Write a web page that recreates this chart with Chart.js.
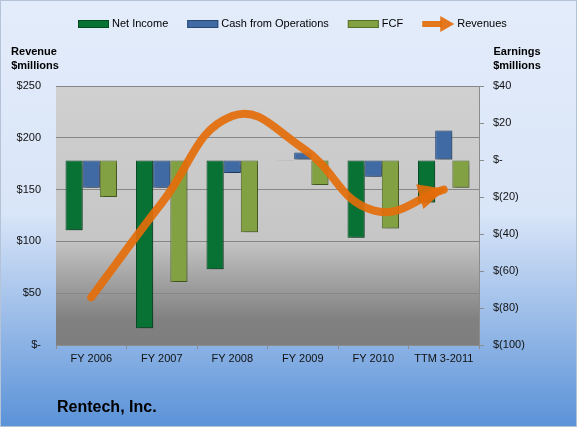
<!DOCTYPE html>
<html>
<head>
<meta charset="utf-8">
<script src="https://cdn.jsdelivr.net/npm/chart.js@4/dist/chart.umd.min.js"></script>
<style>
  html, body { margin: 0; padding: 0; background: #fff; }
  canvas { display: block; }
</style>
</head>
<body>
<canvas id="chart" width="577" height="427"></canvas>
<script>
// values ($ millions)
const categories = ['FY 2006', 'FY 2007', 'FY 2008', 'FY 2009', 'FY 2010', 'TTM 3-2011'];
const netIncome = [-38, -91, -59, -0.4, -42, -23];
const cashFromOps = [-15, -15, -7, 4, -9, 16];
const fcf = [-20, -66, -39, -13.5, -37, -15];
const revenues = [46, 137, 221, 190, 130, 150];

const revenueAxis = { min: 0, max: 250, step: 50 };
const earningsAxis = { min: -100, max: 40, step: 20 };

const FONT = '"Liberation Sans", Arial, sans-serif';
const ORANGE = 'rgba(228, 108, 10, 0.92)';

const fmtRevenue = (v) => (v === 0 ? '$-' : '$' + v);
const fmtEarnings = (v) => {
    if (v === 0) return '$-';
    if (v < 0) return '$(' + Math.abs(v) + ')';
    return '$' + v;
};

// page + plot backgrounds
const backgrounds = {
    id: 'backgrounds',
    beforeDraw(chart) {
        const { ctx, width, height, chartArea: a } = chart;
        ctx.save();
        let g = ctx.createLinearGradient(0, 0, 0, height);
        g.addColorStop(0, '#e3ecfa');
        g.addColorStop(0.5, '#d9e5f8');
        g.addColorStop(1, '#5a92d8');
        ctx.fillStyle = g;
        ctx.fillRect(0, 0, width, height);
        ctx.strokeStyle = '#b4c3d8';
        ctx.lineWidth = 1;
        ctx.strokeRect(0.5, 0.5, width - 1, height - 1);

        g = ctx.createLinearGradient(0, a.top, 0, a.bottom);
        g.addColorStop(0, '#d0d0d0');
        g.addColorStop(0.59, '#c6c6c6');
        g.addColorStop(0.9, '#818181');
        g.addColorStop(1, '#7e7e7e');
        ctx.fillStyle = g;
        ctx.fillRect(a.left, a.top, a.right - a.left, a.bottom - a.top);
        ctx.restore();
    }
};

// soft shadow under the bars
const barShadow = {
    id: 'barShadow',
    beforeDatasetDraw(chart, args) {
        if (args.meta.type !== 'bar') return;
        const ctx = chart.ctx;
        ctx.save();
        ctx.shadowColor = 'rgba(0,0,0,0.35)';
        ctx.shadowBlur = 3;
        ctx.shadowOffsetX = 2;
        ctx.shadowOffsetY = 2;
    },
    afterDatasetDraw(chart, args) {
        if (args.meta.type !== 'bar') return;
        chart.ctx.restore();
    }
};

function drawArrowHead(ctx, x, y, angle, len, half, color) {
    ctx.save();
    ctx.translate(x, y);
    ctx.rotate(angle);
    ctx.fillStyle = color;
    ctx.beginPath();
    ctx.moveTo(0, 0);
    ctx.lineTo(-len, -half);
    ctx.lineTo(-len, half);
    ctx.closePath();
    ctx.fill();
    ctx.restore();
}

// arrow head at the end of the revenue line
const lineArrow = {
    id: 'lineArrow',
    afterDatasetsDraw(chart) {
        const idx = chart.data.datasets.findIndex(d => d.type === 'line');
        const meta = chart.getDatasetMeta(idx);
        const pts = meta.data;
        const p = pts[pts.length - 1];
        let cx = p.cp1x, cy = p.cp1y;
        if (cx === undefined || (cx === p.x && cy === p.y)) {
            cx = pts[pts.length - 2].x;
            cy = pts[pts.length - 2].y;
        }
        const ang = Math.atan2(p.y - cy, p.x - cx);
        const tx = p.x + Math.cos(ang) * 2;
        const ty = p.y + Math.sin(ang) * 2;
        drawArrowHead(chart.ctx, tx, ty, ang, 27, 13, ORANGE);
    }
};

// legend, axis captions and company name
const captions = {
    id: 'captions',
    afterDraw(chart) {
        const ctx = chart.ctx;
        ctx.save();
        ctx.textBaseline = 'middle';
        ctx.font = '11px ' + FONT;
        let x = 78;
        const y = 24;
        chart.data.datasets.forEach(ds => {
            if (ds.type === 'line') {
                ctx.strokeStyle = ORANGE;
                ctx.lineWidth = 6;
                ctx.beginPath();
                ctx.moveTo(x, y);
                ctx.lineTo(x + 20, y);
                ctx.stroke();
                drawArrowHead(ctx, x + 32, y, 0, 14, 8, ORANGE);
                x += 35;
            } else {
                ctx.fillStyle = ds.backgroundColor;
                ctx.fillRect(x, y - 4, 31, 8);
                ctx.strokeStyle = ds.borderColor;
                ctx.lineWidth = 1;
                ctx.strokeRect(x + 0.5, y - 3.5, 30, 7);
                x += 34;
            }
            ctx.fillStyle = '#000';
            ctx.textAlign = 'left';
            ctx.fillText(ds.label, x, y);
            x += ctx.measureText(ds.label).width + 19;
        });

        ctx.font = 'bold 11px ' + FONT;
        ctx.textAlign = 'center';
        ctx.fillText('Revenue', 34, 52);
        ctx.fillText('$millions', 35, 66);
        ctx.fillText('Earnings', 517, 52);
        ctx.fillText('$millions', 517, 66);

        ctx.font = 'bold 16px ' + FONT;
        ctx.textAlign = 'left';
        ctx.fillText('Rentech, Inc.', 57, 408);
        ctx.restore();
    }
};

const barDataset = (label, data, fill, edge) => ({
    type: 'bar',
    label: label,
    data: data,
    yAxisID: 'yR',
    backgroundColor: fill,
    borderColor: edge,
    borderWidth: 1,
    borderSkipped: false,
    categoryPercentage: 0.73,
    barPercentage: 1.0,
    order: 1
});

new Chart(document.getElementById('chart'), {
    type: 'bar',
    data: {
        labels: categories,
        datasets: [
            barDataset('Net Income', netIncome, '#077233', '#044a21'),
            barDataset('Cash from Operations', cashFromOps, '#3f6aa4', '#2a4a76'),
            barDataset('FCF', fcf, '#82a142', '#58702b'),
            {
                type: 'line',
                label: 'Revenues',
                data: revenues,
                yAxisID: 'yL',
                borderColor: ORANGE,
                borderWidth: 8,
                borderCapStyle: 'round',
                pointRadius: 0,
                tension: 0.45,
                fill: false,
                order: 0
            }
        ]
    },
    options: {
        responsive: false,
        devicePixelRatio: 1,
        animation: false,
        layout: { padding: { top: 86, left: 0, right: 0, bottom: 0 } },
        plugins: {
            legend: { display: false },
            tooltip: { enabled: false }
        },
        scales: {
            x: {
                offset: true,
                grid: { offset: true, drawOnChartArea: false, tickLength: 4, color: '#8c8c8c' },
                border: { color: '#8c8c8c' },
                ticks: {
                    autoSkip: false,
                    maxRotation: 0,
                    padding: 3,
                    color: '#111',
                    font: { family: FONT, size: 11 }
                },
                afterFit(scale) { scale.height = 82; }
            },
            yL: {
                position: 'left',
                min: revenueAxis.min,
                max: revenueAxis.max,
                grid: { color: '#878787', drawTicks: false },
                border: { display: false },
                ticks: {
                    stepSize: revenueAxis.step,
                    padding: 15,
                    color: '#111',
                    font: { family: FONT, size: 11 },
                    callback: fmtRevenue
                },
                afterFit(scale) { scale.width = 56; }
            },
            yR: {
                position: 'right',
                min: earningsAxis.min,
                max: earningsAxis.max,
                grid: { drawOnChartArea: false, tickLength: 5, color: '#8c8c8c' },
                border: { color: '#8c8c8c' },
                ticks: {
                    stepSize: earningsAxis.step,
                    padding: 9,
                    color: '#111',
                    font: { family: FONT, size: 11 },
                    callback: fmtEarnings
                },
                afterFit(scale) { scale.width = 98; }
            }
        }
    },
    plugins: [backgrounds, barShadow, lineArrow, captions]
});
</script>
</body>
</html>
